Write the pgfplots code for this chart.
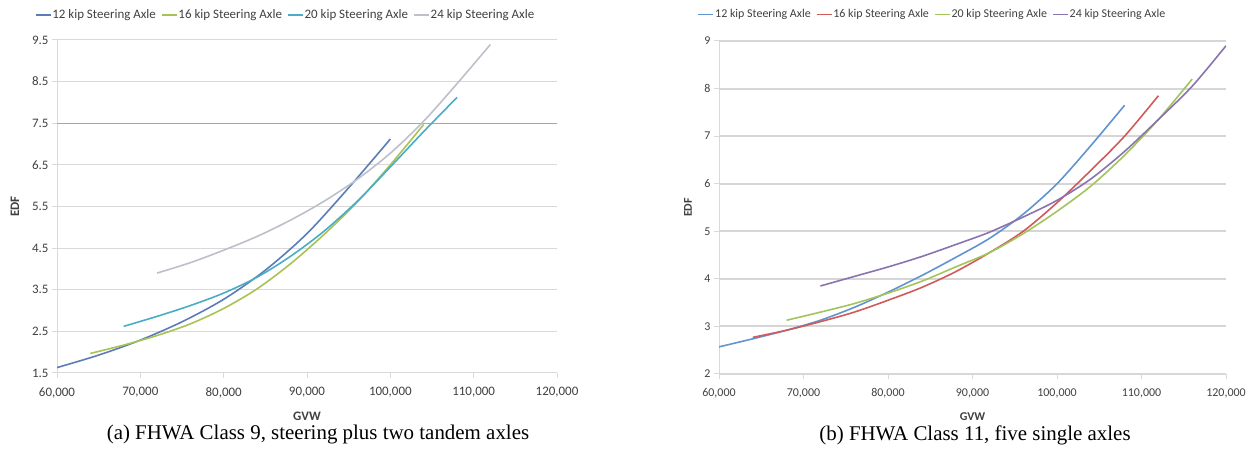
\documentclass[border=0pt]{standalone}
\usepackage{pgfplots}
\pgfplotsset{compat=1.18}
\usepackage{fontspec}
\setmainfont{Carlito}
\newfontfamily\capfont{Liberation Serif}
\definecolor{gridc}{HTML}{D9D9D9}
\definecolor{gridb}{HTML}{D6D6D6}
\definecolor{gridd}{HTML}{A6A6A6}
\definecolor{txt}{HTML}{404040}
\definecolor{aone}{HTML}{5A7DB5}
\definecolor{atwo}{HTML}{A8C256}
\definecolor{athree}{HTML}{4BACC6}
\definecolor{afour}{HTML}{BDC0CA}
\definecolor{bone}{HTML}{6194CF}
\definecolor{btwo}{HTML}{D05A5A}
\definecolor{bthree}{HTML}{A3C45B}
\definecolor{bfour}{HTML}{8A73AE}
\pgfplotsset{edf/.style={
  scale only axis, anchor=south west,
  xmin=60000, xmax=120000, xtick={60000,70000,...,120000},
  scaled x ticks=false, scaled y ticks=false,
  /pgf/number format/assume math mode=true,
  xticklabel style={/pgf/number format/fixed, /pgf/number format/precision=0, /pgf/number format/1000 sep={,}, yshift=-6bp},
  axis x line*=bottom, axis y line*=left,
  axis line style={-, draw=gridc, line width=1bp},
  tick style={draw=gridc, line width=1bp},
  major tick length=5bp, tick align=outside,
  ymajorgrids,
  ticklabel style={text=txt},
  xlabel={\textbf{GVW}}, ylabel={\textbf{EDF}},
  label style={text=txt},
  legend columns=4,
  legend image code/.code={\draw[##1] (0bp,0bp) -- (15bp,0bp);},
  every axis plot/.append style={line width=1.6bp, smooth, tension=0.5, no markers},
}}
\begin{document}
\begin{tikzpicture}[x=1bp,y=1bp]
\useasboundingbox (0,0) rectangle (1256,449);
\begin{axis}[edf, at={(57bp,76bp)}, width=500bp, height=333bp,
  ymin=1.5, ymax=9.5, ytick={1.5,2.5,3.5,4.5,5.5,6.5,7.5,8.5,9.5},
  grid style={draw=gridc, line width=1bp},
  yticklabel style={/pgf/number format/fixed, /pgf/number format/fixed zerofill, /pgf/number format/precision=1},
  font=\fontsize{13}{15}\selectfont,
  xlabel style={at={([yshift=-43bp]rel axis cs:0.5,0)}, anchor=center},
  ylabel style={at={([xshift=-42bp]rel axis cs:0,0.5)}, anchor=center},
  legend style={draw=none, fill=none, at={(0.456,1.075)}, anchor=center,
    font=\fontsize{13}{15}\selectfont, text=txt,
    /tikz/every even column/.append style={column sep=4bp},
    nodes={inner xsep=1bp}},
]
\draw[gridd, line width=1bp] (axis cs:60000,7.5) -- (axis cs:120000,7.5);
\addplot[aone] coordinates {(60000,1.63)(65000,1.93)(70000,2.29)(75000,2.73)(80000,3.27)(85000,3.97)(90000,4.85)(95000,5.95)(100000,7.12)};
\addlegendentry{12 kip Steering Axle}
\addplot[atwo] coordinates {(64000,1.97)(68000,2.17)(72000,2.4)(76000,2.68)(80000,3.05)(84000,3.52)(88000,4.12)(92000,4.82)(96000,5.6)(100000,6.5)(104000,7.47)};
\addlegendentry{16 kip Steering Axle}
\addplot[athree] coordinates {(68000,2.62)(72000,2.86)(76000,3.12)(80000,3.42)(84000,3.8)(88000,4.3)(92000,4.9)(96000,5.62)(100000,6.45)(104000,7.3)(108000,8.12)};
\addlegendentry{20 kip Steering Axle}
\addplot[afour] coordinates {(72000,3.9)(76000,4.15)(80000,4.45)(84000,4.78)(88000,5.17)(92000,5.62)(96000,6.15)(100000,6.78)(104000,7.55)(108000,8.45)(112000,9.39)};
\addlegendentry{24 kip Steering Axle}
\end{axis}
\begin{axis}[edf, at={(719bp,75bp)}, width=507bp, height=333bp,
  ymin=2, ymax=9, ytick={2,3,4,5,6,7,8,9},
  grid style={draw=gridb, line width=2bp},
  yticklabel style={/pgf/number format/fixed},
  font=\fontsize{12}{14}\selectfont,
  xlabel style={at={([yshift=-43bp]rel axis cs:0.5,0)}, anchor=center},
  ylabel style={at={([xshift=-31bp]rel axis cs:0,0.5)}, anchor=center},
  legend style={draw=none, fill=none, at={(0.42,1.08)}, anchor=center,
    font=\fontsize{12}{14}\selectfont, text=txt,
    /tikz/every even column/.append style={column sep=4bp},
    nodes={inner xsep=1bp}},
]
\addplot[bone] coordinates {(60000,2.57)(64000,2.74)(68000,2.92)(72000,3.13)(76000,3.4)(80000,3.72)(84000,4.07)(88000,4.45)(92000,4.85)(96000,5.36)(100000,6.0)(104000,6.8)(108000,7.65)};
\addlegendentry{12 kip Steering Axle}
\addplot[btwo] coordinates {(64000,2.77)(68000,2.92)(72000,3.1)(76000,3.3)(80000,3.55)(84000,3.82)(88000,4.15)(92000,4.55)(96000,5.0)(100000,5.6)(104000,6.28)(108000,7.0)(112000,7.85)};
\addlegendentry{16 kip Steering Axle}
\addplot[bthree] coordinates {(68000,3.13)(72000,3.3)(76000,3.48)(80000,3.7)(84000,3.95)(88000,4.25)(92000,4.55)(96000,4.95)(100000,5.42)(104000,5.95)(108000,6.6)(112000,7.35)(116000,8.2)};
\addlegendentry{20 kip Steering Axle}
\addplot[bfour] coordinates {(72000,3.85)(76000,4.05)(80000,4.25)(84000,4.47)(88000,4.72)(92000,4.98)(96000,5.3)(100000,5.65)(104000,6.1)(108000,6.68)(112000,7.35)(116000,8.05)(120000,8.9)};
\addlegendentry{24 kip Steering Axle}
\end{axis}
\node[font=\capfont\fontsize{21}{24}\selectfont, anchor=center] at (318,14) {(a) FHWA Class 9, steering plus two tandem axles};
\node[font=\capfont\fontsize{21}{24}\selectfont, anchor=center] at (975,14) {(b) FHWA Class 11, five single axles};
\end{tikzpicture}
\end{document}
